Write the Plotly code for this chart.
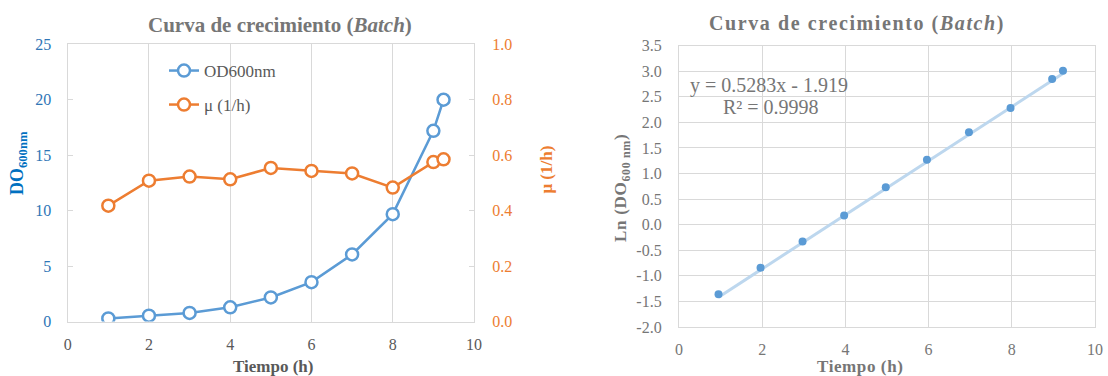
import plotly.graph_objects as go

# ---------------- data ----------------
tiempo = [1, 2, 3, 4, 5, 6, 7, 8, 9, 9.25]
od600 = [0.28, 0.52, 0.77, 1.28, 2.17, 3.55, 6.05, 9.68, 17.2, 20.0]
mu = [0.418, 0.508, 0.523, 0.513, 0.554, 0.543, 0.534, 0.483, 0.575, 0.585]

tiempo_ln = [0.95, 1.96, 2.97, 3.97, 4.97, 5.96, 6.97, 7.97, 8.97, 9.23]
ln_od = [-1.36, -0.84, -0.33, 0.18, 0.73, 1.27, 1.81, 2.28, 2.85, 3.01]
pendiente = 0.5283
intercepto = -1.919
r2 = 0.9998

ln_ticks = [-2.0, -1.5, -1.0, -0.5, 0.0, 0.5, 1.0, 1.5, 2.0, 2.5, 3.0, 3.5]
ln_ticktext = ["-2.0", "-1.5", "-1.0", "-0.5", "0.0", "0.5", "1.0", "1.5",
               "2.0", "2.5", "3.0", "3.5"]

# ---------------- style ----------------
W, H = 1108, 376
FONT = "Liberation Serif"
BLUE = "#5B9BD5"
ORANGE = "#ED7D31"
GRID = "#D9D9D9"
GRAY = "#595959"
TGRAY = "#767676"

def px(x):
    return x / W

def py(y):
    return 1 - y / H

def spaced(html, sp):
    return f'<span style="letter-spacing:{sp}px">{html}</span>'

trend_x = [tiempo_ln[0], tiempo_ln[-1]]
trend_y = [pendiente * v + intercepto for v in trend_x]

fig = go.Figure()

fig.add_trace(go.Scatter(
    x=tiempo, y=od600, name="OD600nm", mode="lines+markers",
    line=dict(color=BLUE, width=2.5),
    marker=dict(symbol="circle", size=12, color="white",
                line=dict(color=BLUE, width=2.5)),
    xaxis="x", yaxis="y", legend="legend"))
fig.add_trace(go.Scatter(
    x=tiempo, y=mu, name="μ (1/h)", mode="lines+markers",
    line=dict(color=ORANGE, width=2.5),
    marker=dict(symbol="circle", size=12, color="white",
                line=dict(color=ORANGE, width=2.5)),
    xaxis="x", yaxis="y2", legend="legend2"))

fig.add_trace(go.Scatter(
    x=trend_x, y=trend_y, mode="lines", showlegend=False,
    line=dict(color="#BDD7EE", width=3),
    xaxis="x3", yaxis="y3"))
fig.add_trace(go.Scatter(
    x=tiempo_ln, y=ln_od, mode="markers", showlegend=False,
    marker=dict(color=BLUE, size=8),
    xaxis="x3", yaxis="y3"))

TS = 16
tickfont = dict(family=FONT, size=TS, color=GRAY)

fig.update_layout(
    width=W, height=H,
    margin=dict(l=0, r=0, t=0, b=0, autoexpand=False),
    paper_bgcolor="white", plot_bgcolor="white",
    font=dict(family=FONT, color=GRAY),
    xaxis=dict(domain=[px(67.7), px(474)], anchor="y", range=[0, 10], dtick=2,
               showgrid=True, gridcolor=GRID, gridwidth=1.3, zeroline=False,
               showline=True, linecolor=GRID, linewidth=1.3, mirror=True,
               ticks="", tickfont=tickfont, ticklabelstandoff=8, automargin=False),
    yaxis=dict(domain=[py(321.5), py(44.3)], anchor="x", range=[0, 25], dtick=5,
               showgrid=False, zeroline=False,
               showline=True, linecolor=GRID, linewidth=1.3,
               ticks="inside", ticklen=5, tickcolor=GRID, tickwidth=1.3,
               tickfont=dict(family=FONT, size=TS, color="#2E75B6"),
               ticklabelstandoff=12, automargin=False),
    yaxis2=dict(overlaying="y", side="right", anchor="x", range=[0, 1], dtick=0.2,
                tickformat=".1f", showgrid=False, zeroline=False,
                showline=True, linecolor=GRID, linewidth=1.3,
                ticks="inside", ticklen=5, tickcolor=GRID, tickwidth=1.3,
                tickfont=dict(family=FONT, size=TS, color=ORANGE),
                ticklabelstandoff=14, automargin=False),
    xaxis3=dict(domain=[px(679), px(1095)], anchor="y3", range=[0, 10], dtick=2,
                showgrid=True, gridcolor=GRID, gridwidth=1.3, zeroline=False,
                showline=True, linecolor=GRID, linewidth=1.3, mirror=True,
                ticks="", tickfont=dict(family=FONT, size=TS, color=TGRAY),
                ticklabelstandoff=8, automargin=False),
    yaxis3=dict(domain=[py(327), py(45.7)], anchor="x3", range=[-2, 3.5],
                tickvals=ln_ticks, ticktext=ln_ticktext,
                showgrid=True, gridcolor=GRID, gridwidth=1.3, zeroline=False,
                showline=True, linecolor=GRID, linewidth=1.3, mirror=True,
                ticks="", tickfont=dict(family=FONT, size=TS, color=TGRAY),
                ticklabelstandoff=13, automargin=False),
    legend=dict(x=px(164), y=py(71), xanchor="left", yanchor="middle",
                bgcolor="rgba(0,0,0,0)", font=dict(family=FONT, size=17, color=GRAY)),
    legend2=dict(x=px(164), y=py(105), xanchor="left", yanchor="middle",
                 bgcolor="rgba(0,0,0,0)", font=dict(family=FONT, size=17, color=GRAY)),
    showlegend=True,
)

ann = []
ann.append(dict(text="<b>Curva de crecimiento (<i>Batch</i>)</b>", x=px(280), y=py(25),
                font=dict(family=FONT, size=21, color=TGRAY)))
ann.append(dict(text=spaced("<b>Curva de crecimiento (<i>Batch</i>)</b>", 1.6),
                x=px(857), y=py(23),
                font=dict(family=FONT, size=20, color=TGRAY)))
ann.append(dict(text="<b>DO<sub>600nm</sub></b>", x=px(18), y=py(163), textangle=-90,
                font=dict(family=FONT, size=18, color="#0070C0")))
ann.append(dict(text="<b>μ (1/h)</b>", x=px(545.6), y=py(170), textangle=-90,
                font=dict(family=FONT, size=17, color=ORANGE)))
ann.append(dict(text="<b>Tiempo (h)</b>", x=px(273), y=py(366),
                font=dict(family=FONT, size=17, color=GRAY)))
ann.append(dict(text=spaced("<b>Tiempo (h)</b>", 0.6), x=px(860), y=py(366.5),
                font=dict(family=FONT, size=17, color=TGRAY)))
ann.append(dict(text=spaced("<b>Ln (DO<sub>600 nm</sub>)</b>", 0.7), x=px(622), y=py(188),
                textangle=-90, font=dict(family=FONT, size=17, color=TGRAY)))
ann.append(dict(text=f"y = {pendiente}x - {abs(intercepto)}", x=px(768.5), y=py(85),
                font=dict(family=FONT, size=20, color=TGRAY)))
ann.append(dict(text=f"R² = {r2}", x=px(771), y=py(107),
                font=dict(family=FONT, size=20, color=TGRAY)))
for a in ann:
    a.update(xref="paper", yref="paper", showarrow=False, xanchor="center", yanchor="middle")
fig.update_layout(annotations=ann)

fig.write_html("out.html")
